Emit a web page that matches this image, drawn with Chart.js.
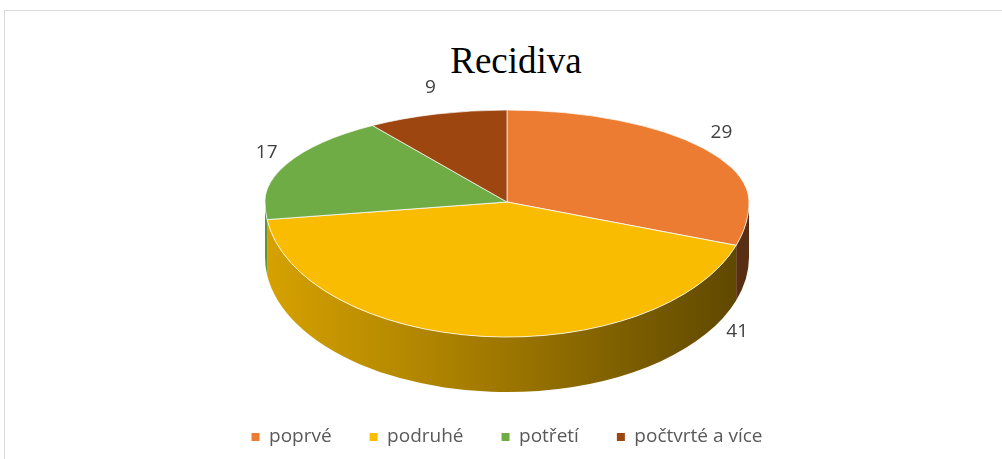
<!DOCTYPE html>
<html lang="cs">
<head>
    <meta charset="UTF-8">
    <title>Recidiva</title>
    <script src="https://cdn.jsdelivr.net/npm/chart.js"></script>
    <style>
        html, body { margin: 0; padding: 0; background: #fff; }
        body { width: 1002px; height: 459px; position: relative; overflow: hidden; }
        .frame { position: absolute; left: 4px; top: 10px; width: 1010px; height: 460px; border: 1px solid #d9d9d9; }
        .title { position: absolute; left: 0; top: 42px; width: 1032px; text-align: center;
                 font-family: "Liberation Serif", serif; font-size: 37px; line-height: 37px; color: #000; }
        .wrap { position: absolute; left: 0; top: 0; width: 1002px; height: 459px; }
    </style>
</head>
<body>
    <div class="frame"></div>
    <div class="title">Recidiva</div>
    <div class="wrap"><canvas id="myChart"></canvas></div>

    <script>
        // data
        const categories = ['poprvé', 'podruhé', 'potřetí', 'počtvrté a více'];
        const values = [29, 41, 17, 9];

        // styles
        const colors = ['#EB7C32', '#F9BC00', '#6FAC46', '#9E460F'];
        const K_UP = 0.38;    // vertical squash of the far half
        const K_LO = 0.558;   // vertical squash of the near half
        const DEPTH = 55;     // height of the side wall
        const LABEL_SHIFT = [0, -60, 0, 0]; // degrees, moves a label around the pie

        function shade(hex, f) {
            const n = parseInt(hex.slice(1), 16);
            const r = Math.round(((n >> 16) & 255) * f);
            const g = Math.round(((n >> 8) & 255) * f);
            const b = Math.round((n & 255) * f);
            return `rgb(${r}, ${g}, ${b})`;
        }

        const pie3d = {
            id: 'pie3d',
            beforeDatasetsDraw(chart) {
                const ctx = chart.ctx;
                const arcs = chart.getDatasetMeta(0).data;
                const { x, y, outerRadius: r } = arcs[0];

                // side wall (front half only)
                arcs.forEach((arc, i) => {
                    const a = Math.max(arc.startAngle, 0);
                    const b = Math.min(arc.endAngle, Math.PI);
                    if (b <= a) return;
                    const g = ctx.createLinearGradient(x - r, 0, x + r, 0);
                    g.addColorStop(0, shade(colors[i], 0.86));
                    g.addColorStop(0.5, shade(colors[i], 0.63));
                    g.addColorStop(1, shade(colors[i], 0.37));
                    ctx.beginPath();
                    ctx.ellipse(x, y, r, r * K_LO, 0, a, b);
                    ctx.ellipse(x, y + DEPTH, r, r * K_LO, 0, b, a, true);
                    ctx.closePath();
                    ctx.fillStyle = g;
                    ctx.fill();
                });

                // top face, far half and near half squashed differently
                [[K_UP, 0, y + 0.5], [K_LO, y, chart.height]].forEach(([k, y0, y1]) => {
                    ctx.save();
                    ctx.beginPath();
                    ctx.rect(0, y0, chart.width, y1 - y0);
                    ctx.clip();
                    ctx.translate(x, y);
                    ctx.scale(1, k);
                    ctx.translate(-x, -y);
                    arcs.forEach(a => a.draw(ctx));
                    ctx.restore();
                });
                return false;
            },
            afterDraw(chart) {
                const ctx = chart.ctx;
                const arcs = chart.getDatasetMeta(0).data;
                ctx.save();
                ctx.font = '19px "Open Sans"';
                ctx.fillStyle = '#404040';
                ctx.textAlign = 'center';
                ctx.textBaseline = 'middle';
                arcs.forEach((arc, i) => {
                    const mid = (arc.startAngle + arc.endAngle) / 2 + LABEL_SHIFT[i] * Math.PI / 180;
                    const c = Math.cos(mid), s = Math.sin(mid);
                    const r = arc.outerRadius;
                    let lx, ly;
                    if (s < 0) {
                        lx = arc.x + c * r * 1.09;
                        ly = arc.y + s * r * K_UP * 1.3;
                    } else {
                        lx = arc.x + c * r * 1.17;
                        ly = arc.y + s * (r * K_LO + DEPTH) * 1.17;
                    }
                    ctx.fillText(String(values[i]), lx, ly);
                });
                ctx.restore();
            }
        };

        const ctx = document.getElementById('myChart').getContext('2d');
        new Chart(ctx, {
            type: 'pie',
            data: {
                labels: categories,
                datasets: [{
                    data: values,
                    backgroundColor: colors,
                    borderColor: '#ffffff',
                    borderWidth: 1,
                    radius: 242
                }]
            },
            options: {
                responsive: true,
                maintainAspectRatio: false,
                animation: false,
                events: [],
                layout: { padding: { top: 14.5, bottom: 2.5, left: 12, right: 0 } },
                plugins: {
                    tooltip: { enabled: false },
                    legend: {
                        position: 'bottom',
                        labels: {
                            boxWidth: 8,
                            boxHeight: 8,
                            padding: 38,
                            color: '#595959',
                            font: { family: 'Open Sans', size: 19 },
                            generateLabels: () => categories.map((t, i) => ({
                                text: t,
                                fillStyle: colors[i],
                                strokeStyle: colors[i],
                                lineWidth: 0,
                                fontColor: '#595959',
                                hidden: false,
                                index: i
                            }))
                        }
                    }
                }
            },
            plugins: [pie3d]
        });
    </script>
</body>
</html>
